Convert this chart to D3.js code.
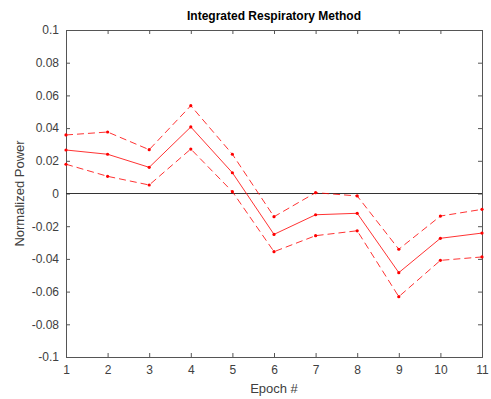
<!DOCTYPE html>
<html>
<head>
<meta charset="utf-8">
<script src="https://cdn.jsdelivr.net/npm/d3@7"></script>
<style>
  body { margin: 0; background: #fff; }
  text { font-family: "Liberation Sans", Arial, sans-serif; }
</style>
</head>
<body>
<svg id="chart" width="491" height="399"></svg>
<script>
// epochs and values
var epochs = [1, 2, 3, 4, 5, 6, 7, 8, 9, 10, 11];
var meanPower = [0.0266, 0.0240, 0.0160, 0.0407, 0.0127, -0.0250, -0.0130, -0.0121, -0.0484, -0.0274, -0.0242];
var upperPower = [0.0358, 0.0376, 0.0268, 0.0537, 0.0240, -0.0142, 0.0005, -0.0015, -0.0341, -0.0138, -0.0097];
var lowerPower = [0.0179, 0.0105, 0.0052, 0.0272, 0.0011, -0.0356, -0.0258, -0.0228, -0.0631, -0.0409, -0.0388];
var yTicks = [0.1, 0.08, 0.06, 0.04, 0.02, 0, -0.02, -0.04, -0.06, -0.08, -0.1];

var svg = d3.select('#chart');
var plotLeft = 66, plotRight = 482, plotTop = 30, plotBottom = 357;
var axisColor = '#555';
var textColor = '#404040';
var red = '#ff0000';

var x = d3.scaleLinear().domain([1, 11]).range([plotLeft, plotRight]);
var y = d3.scaleLinear().domain([-0.1, 0.1]).range([plotBottom, plotTop]);

//ticks on all four sides, pointing inwards
var fmt = function (d) { return d === 0 ? '0' : String(d); };
var tickLen = 4;

svg.append('g').attr('transform', 'translate(0,' + plotBottom + ')')
    .call(d3.axisBottom(x).tickValues(epochs).tickSize(-tickLen).tickPadding(8).tickFormat(fmt));
svg.append('g').attr('transform', 'translate(0,' + plotTop + ')')
    .call(d3.axisTop(x).tickValues(epochs).tickSize(-tickLen).tickFormat(''));
svg.append('g').attr('transform', 'translate(' + plotLeft + ',0)')
    .call(d3.axisLeft(y).tickValues(yTicks).tickSize(-tickLen).tickPadding(7).tickFormat(fmt));
svg.append('g').attr('transform', 'translate(' + plotRight + ',0)')
    .call(d3.axisRight(y).tickValues(yTicks).tickSize(-tickLen).tickFormat(''));

svg.selectAll('.domain').attr('stroke', axisColor).attr('stroke-width', 1);
svg.selectAll('.tick line').attr('stroke', axisColor);
svg.selectAll('.tick text').attr('fill', textColor).style('font-size', '12px')
    .style('font-family', '"Liberation Sans", Arial, sans-serif');

//zero line
svg.append('line')
    .attr('x1', plotLeft).attr('x2', plotRight)
    .attr('y1', y(0)).attr('y2', y(0))
    .attr('stroke', '#333').attr('stroke-width', 1);

//series
var line = d3.line()
    .x(function (d, i) { return x(epochs[i]); })
    .y(function (d) { return y(d); });

var series = [
    { values: upperPower, dash: '7,4' },
    { values: meanPower, dash: null },
    { values: lowerPower, dash: '7,4' }
];

series.forEach(function (s) {
    svg.append('path')
        .datum(s.values)
        .attr('d', line)
        .attr('fill', 'none')
        .attr('stroke', red)
        .attr('stroke-opacity', 0.8)
        .attr('stroke-width', 1)
        .attr('stroke-dasharray', s.dash);

    svg.append('g').selectAll('circle')
        .data(s.values).enter()
        .append('circle')
        .attr('cx', function (d, i) { return x(epochs[i]); })
        .attr('cy', function (d) { return y(d); })
        .attr('r', 1.6)
        .attr('fill', red);
});

//labels
svg.append('text')
    .attr('x', (plotLeft + plotRight) / 2).attr('y', 20)
    .attr('text-anchor', 'middle')
    .style('font-size', '12px').style('font-weight', 'bold')
    .attr('fill', '#000')
    .text('Integrated Respiratory Method');

svg.append('text')
    .attr('x', (plotLeft + plotRight) / 2).attr('y', 393)
    .attr('text-anchor', 'middle')
    .style('font-size', '13px')
    .attr('fill', textColor)
    .text('Epoch #');

svg.append('text')
    .attr('transform', 'translate(24,' + ((plotTop + plotBottom) / 2) + ') rotate(-90)')
    .attr('text-anchor', 'middle')
    .style('font-size', '13px')
    .attr('fill', textColor)
    .text('Normalized Power');
</script>
</body>
</html>
